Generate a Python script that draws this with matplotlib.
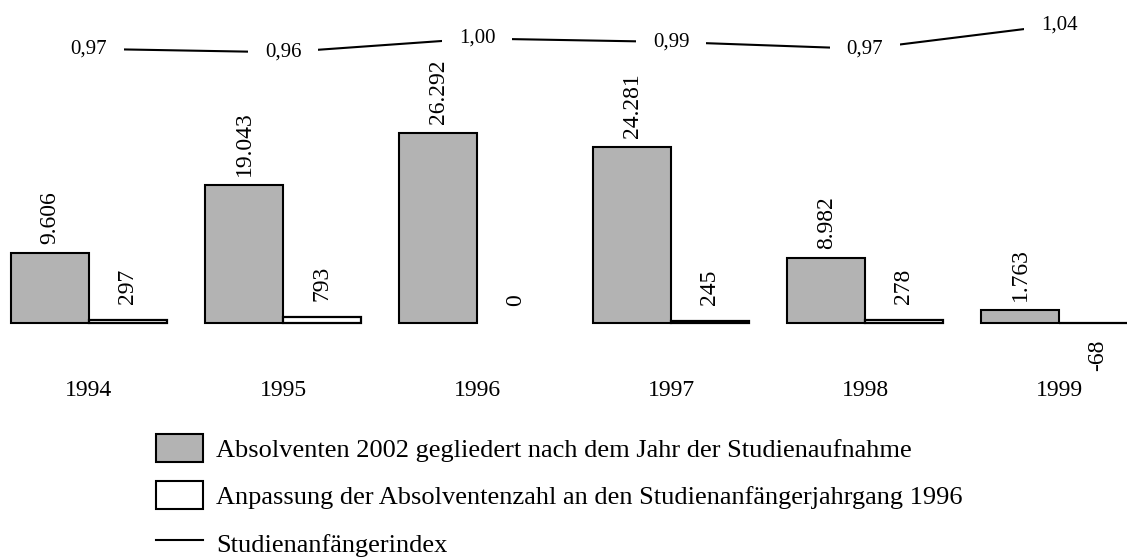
import matplotlib
matplotlib.use("Agg")
import matplotlib.pyplot as plt
from matplotlib.patches import Patch
from matplotlib.lines import Line2D

years = ["1994", "1995", "1996", "1997", "1998", "1999"]
absolventen = [9606, 19043, 26292, 24281, 8982, 1763]
anpassung = [297, 793, 0, 245, 278, -68]
index = [0.97, 0.96, 1.00, 0.99, 0.97, 1.04]

labels = [
    "Absolventen 2002 gegliedert nach dem Jahr der Studienaufnahme",
    "Anpassung der Absolventenzahl an den Studienanfängerjahrgang 1996",
    "Studienanfängerindex",
]

plt.rcParams["font.family"] = ["Liberation Serif", "DejaVu Serif"]

W, H = 1127, 559
fig = plt.figure(figsize=(W / 100, H / 100), dpi=100)
ax = fig.add_axes([0, 0, 1, 1])
ax2 = ax.twinx()

# pixel mapping: group spacing 194 px, first centre at 89 px, baseline at 322.5 px
ax.set_xlim(-89 / 194, (W - 89) / 194)
unit = 138.5  # values per pixel
ax.set_ylim(-(H - 322.5) * unit, 322.5 * unit)
ax2.set_ylim(1.00 - (H - 38.5) / 344, 1.00 + 38.5 / 344)

x = list(range(len(years)))
w = 0.4
ax.bar([i - w / 2 for i in x], absolventen, width=w, color="#b3b3b3",
       edgecolor="black", linewidth=1.5, zorder=2)
# Excel draws nothing for a zero-height bar
ax.bar([i + w / 2 for i in x], anpassung, width=w, color="white",
       edgecolor="black", linewidth=[0 if v == 0 else 1.6 for v in anpassung], zorder=2)

fmt = lambda v: f"{v:,}".replace(",", ".")
for i, v in zip(x, absolventen):
    ax.annotate(fmt(v), (i - w / 2, v), xytext=(0, 9), textcoords="offset pixels",
                rotation=90, ha="center", va="bottom", fontsize=17, zorder=5)
for i, v in zip(x, anpassung):
    if v >= 0:
        ax.annotate(fmt(v), (i + w / 2, v), xytext=(0, 16), textcoords="offset pixels",
                    rotation=90, ha="center", va="bottom", fontsize=17, zorder=5)
    else:
        ax.annotate(fmt(v), (i + w / 2, v), xytext=(0, -17), textcoords="offset pixels",
                    rotation=90, ha="center", va="top", fontsize=17, zorder=5)

for i, y in zip(x, years):
    ax.text(i, 1 - 391 / H, y, transform=ax.get_xaxis_transform(),
            ha="center", va="center", fontsize=17)

ax2.plot(x, index, color="black", linewidth=1.5, zorder=1)
for i, v in zip(x, index):
    ax2.text(i, v, f"{v:.2f}".replace(".", ","), ha="center", va="center",
             fontsize=15, zorder=3,
             bbox=dict(boxstyle="square,pad=0.8", facecolor="white", edgecolor="none"))

for a in (ax, ax2):
    a.axis("off")
ax.set_zorder(ax2.get_zorder() + 1)
ax.patch.set_visible(False)

handles = [
    Patch(facecolor="#b3b3b3", edgecolor="black", linewidth=1.5),
    Patch(facecolor="white", edgecolor="black", linewidth=1.5),
    Line2D([0], [0], color="black", linewidth=1.5),
]
fig.legend(handles, labels, loc="upper left", bbox_to_anchor=(156 / W, 1 - 434 / H),
           frameon=False, fontsize=19, borderpad=0, handlelength=1.78,
           handleheight=1.25, handletextpad=0.5, labelspacing=0.74, borderaxespad=0)

fig.savefig("out.png", dpi=100)
